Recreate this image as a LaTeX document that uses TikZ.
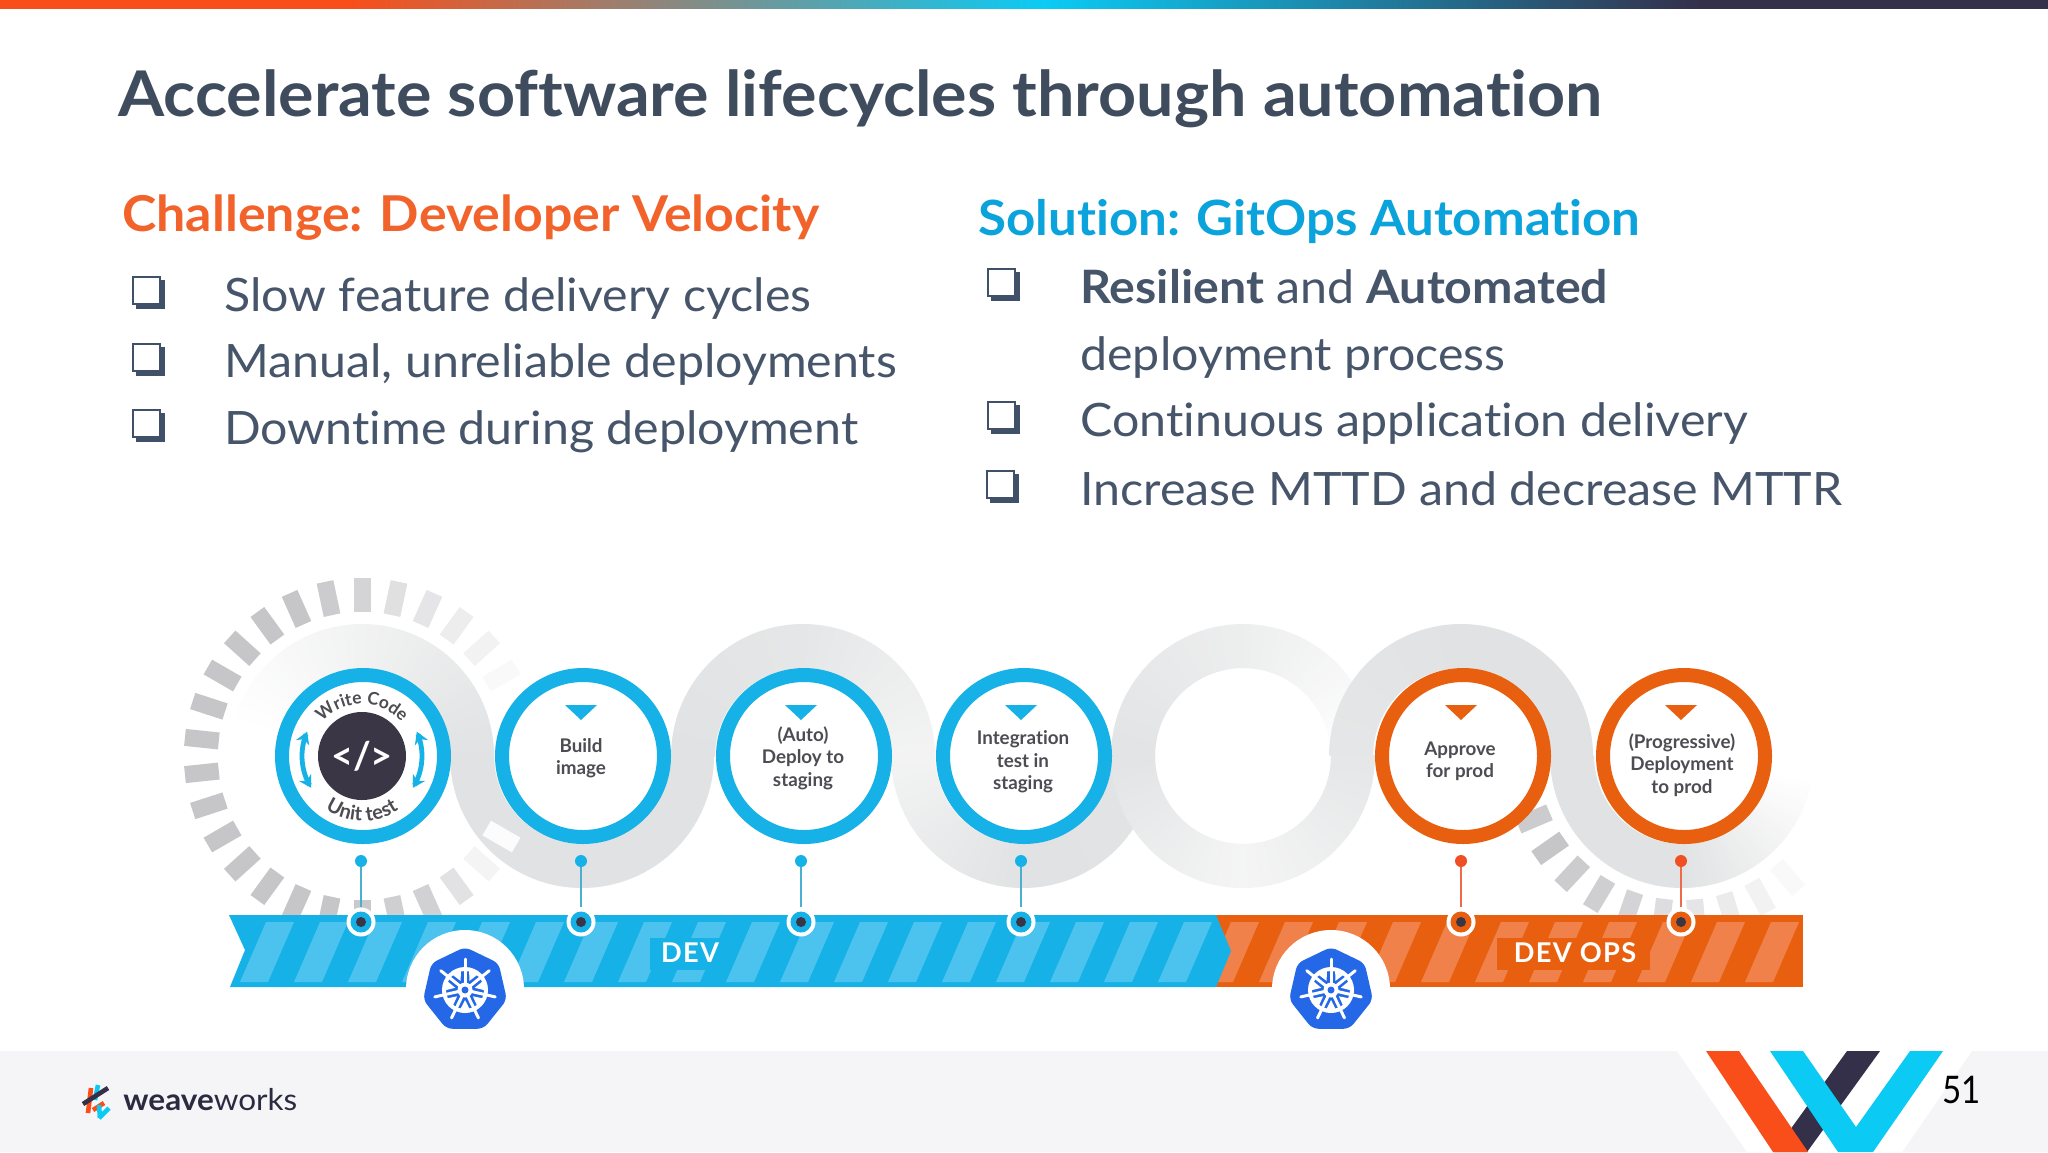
\documentclass[tikz,border=0pt]{standalone}
\usepackage{fontspec}
\usetikzlibrary{arrows.meta,decorations.text,shapes.geometric}
\setmainfont{Lato}[Ligatures=NoCommon]
\newfontfamily\wideA{Lato}[Ligatures=NoCommon,FakeStretch=1.055]
\newfontfamily\wideB{Lato}[Ligatures=NoCommon,FakeStretch=1.05]
\newfontfamily\barf{Lato}[LetterSpace=5]
\newfontfamily\numf{Lato}[FakeStretch=0.87]
\definecolor{titlec}{HTML}{3F4C5E}
\definecolor{bodyc}{HTML}{46556A}
\definecolor{boxc}{HTML}{3F5068}
\definecolor{orangeh}{HTML}{F2632C}
\definecolor{blueh}{HTML}{0BA3DC}
\definecolor{ringblue}{HTML}{16B1E6}
\definecolor{ringorange}{HTML}{E8600F}
\definecolor{stripeblue}{HTML}{4BC3EE}
\definecolor{stripeorange}{HTML}{F0814A}
\definecolor{darkc}{HTML}{3A3646}
\definecolor{lbl}{HTML}{4C4C52}
\definecolor{bandgrey}{HTML}{E1E2E3}
\definecolor{tickgrey}{HTML}{C6C6C9}
\definecolor{kube}{HTML}{2468E8}
\definecolor{footc}{HTML}{F5F5F8}
\definecolor{vorange}{HTML}{F94E19}
\definecolor{vcyan}{HTML}{0BCBF5}
\definecolor{vdark}{HTML}{34304A}
\definecolor{linkblue}{HTML}{4BAFD2}
\definecolor{linkred}{HTML}{EE6A4A}
\definecolor{dotred}{HTML}{F04E23}
\definecolor{wwdark}{HTML}{2B2A40}
\pgfdeclarehorizontalshading{topbar}{100bp}{color(0bp)=(vorange); color(33.5bp)=(vorange); color(50.5bp)=(vcyan); color(66.5bp)=(vdark); color(100bp)=(vdark)}
\tikzset{
  titletext/.style={anchor=base west,text=titlec,font=\wideA\fontsize{31.5}{38}\selectfont\bfseries},
  headtext/.style={anchor=base west,font=\wideB\fontsize{24.7}{29}\selectfont\bfseries},
  bodytext/.style={anchor=base west,text=bodyc,font=\wideB\fontsize{23}{27}\selectfont},
  boxshadow/.style={rectangle,fill=boxc,inner sep=0pt,minimum width=14.5pt,minimum height=14.5pt,anchor=north west},
  boxface/.style={rectangle,fill=white,draw=boxc,line width=0.8pt,inner sep=0pt,minimum width=13.5pt,minimum height=13.5pt,anchor=north west},
  ringblue style/.style={circle,draw=ringblue,line width=7pt,fill=white,minimum size=81pt,inner sep=0pt},
  ringorange style/.style={circle,draw=ringorange,line width=7pt,fill=white,minimum size=81pt,inner sep=0pt},
  steplabel/.style={align=center,text=lbl,inner sep=0pt,font=\fontsize{9.4}{11.2}\selectfont\bfseries},
  bandline/.style={line width=22pt,line cap=butt},
  tickline/.style={line width=8.5pt,line cap=butt},
  dotnode/.style={circle,inner sep=0pt,minimum size=6pt},
  pinwhite/.style={circle,fill=white,inner sep=0pt,minimum size=14.5pt},
  pindark/.style={circle,fill=darkc,inner sep=0pt,minimum size=5pt},
  barlabel/.style={text=white,inner sep=0pt,font=\barf\fontsize{13.6}{15}\selectfont\bfseries},
}
\newcommand{\bandarc}[5]{%
  \pgfmathtruncatemacro\nseg{abs(#3-#2)/2}%
  \foreach \i in {1,...,\nseg}{%
    \pgfmathsetmacro\aa{#2+(#3-#2)*(\i-1)/\nseg}%
    \pgfmathsetmacro\ab{#2+(#3-#2)*(\i+0.3)/\nseg}%
    \pgfmathsetmacro\pp{#4+(#5-#4)*(\i-0.5)/\nseg}%
    \draw[bandline,color=bandgrey!\pp!white] ({#1+110*cos(\aa)},{756-110*sin(\aa)}) -- ({#1+110*cos(\ab)},{756-110*sin(\ab)});
  }}
\newcommand{\gtick}[3]{% cx angle pct
  \draw[tickline,color=tickgrey!#3!white] ({#1+144*cos(#2)},{756-144*sin(#2)}) -- ({#1+178*cos(#2)},{756-178*sin(#2)});}
\newcommand{\kubelogo}[3]{% cx cy name
  \node[regular polygon,regular polygon sides=7,fill=kube,rounded corners=3pt,minimum size=43pt,inner sep=0pt] (#3) at (#1,#2) {};
  \draw[white,line width=2pt] (#1,#2) circle[radius=21];
  \foreach \a in {90,141.43,192.86,244.29,295.71,347.14,38.57}{
    \draw[white,line width=1.5pt,line cap=round] ({#1+5*cos(\a)},{#2-5*sin(\a)}) -- ({#1+31*cos(\a)},{#2-31*sin(\a)});
    \fill[white] ({#1+10*cos(\a+25.7)},{#2-10*sin(\a+25.7)}) -- ({#1+20*cos(\a+12)},{#2-20*sin(\a+12)}) -- ({#1+20*cos(\a+39.4)},{#2-20*sin(\a+39.4)}) -- cycle;
  }
  \fill[white] (#1,#2) circle[radius=7.5];
  \fill[kube] (#1,#2) circle[radius=3.5];
}
\begin{document}
\begin{tikzpicture}[x=0.5pt,y=-0.5pt]
\useasboundingbox (0,0) rectangle (2048,1152);
\fill[white] (0,0) rectangle (2048,1152);
% top bar
\shade[shading=topbar] (0,0) rectangle (2048,8);
% footer
\fill[footc] (0,1051) rectangle (2048,1152);
\fill[white] (1677,1051) -- (1972,1051) -- (1902,1152) -- (1747,1152) -- cycle;
\fill[vdark] (1847,1051) -- (1880,1051) -- (1807,1152) -- (1774,1152) -- cycle;
\fill[vorange] (1706,1051) -- (1739,1051) -- (1808,1152) -- (1773,1152) -- cycle;
\fill[vcyan] (1770,1051) -- (1803,1051) -- (1856,1127) -- (1910,1051) -- (1943,1051) -- (1873,1152) -- (1838,1152) -- cycle;
\node[anchor=base west,inner sep=0pt,text=black,font=\numf\fontsize{19}{23}\selectfont] (pageno) at (1942,1103) {51};
% weaveworks logo
\foreach \xa/\ya/\xb/\yb/\c in {91/1088/88/1113/vorange,104/1103/93/1110/vorange,98/1085/95/1100/vcyan,99/1105/100/1118/vcyan,109/1108/99/1118/vcyan,108/1088/83/1104/vdark}{
  \draw[\c,line width=2.3pt,line cap=butt] (\xa,\ya) -- (\xb,\yb);
}
\node[anchor=base west,inner sep=0pt,text=wwdark,font=\wideB\fontsize{15}{18}\selectfont] (wwtext) at (123,1110) {\textbf{weave}works};
% heading texts
\node[titletext,inner sep=0pt] (ttl) at (118,116) {Accelerate software lifecycles through automation};
\node[headtext,inner sep=0pt,text=orangeh] (hl) at (122,231) {Challenge: Developer Velocity};
\node[headtext,inner sep=0pt,text=blueh,font=\wideB\fontsize{24.3}{29}\selectfont\bfseries] (hr) at (978,235) {Solution: GitOps Automation};
\node[bodytext,inner sep=0pt] (l1) at (224,311) {Slow feature delivery cycles};
\node[bodytext,inner sep=0pt] (l2) at (224,377) {Manual, unreliable deployments};
\node[bodytext,inner sep=0pt] (l3) at (224,444) {Downtime during deployment};
\node[bodytext,inner sep=0pt] (r1) at (1080,303) {\textbf{Resilient} and \textbf{Automated}};
\node[bodytext,inner sep=0pt] (r1b) at (1080,370) {deployment process};
\node[bodytext,inner sep=0pt] (r2) at (1080,436) {Continuous application delivery};
\node[bodytext,inner sep=0pt] (r3) at (1080,505) {Increase MTTD and decrease MTTR};
% check boxes
\foreach \n/\x/\y in {a/132/276,b/132/343,c/132/409,d/987/268,e/987/401,f/986/470}{
  \node[boxshadow] (cbs\n) at ({\x+4},{\y+4}) {};
  \node[boxface] (cbf\n) at (\x,\y) {};
}
% serpentine band
\bandarc{362}{165}{90}{0}{45}
\bandarc{362}{90}{0}{45}{100}
\bandarc{582}{180}{360}{100}{100}
\bandarc{803}{180}{90}{100}{85}
\bandarc{803}{90}{0}{85}{40}
\bandarc{1023}{180}{270}{40}{100}
\bandarc{1023}{270}{360}{100}{95}
\bandarc{1243}{180}{90}{95}{60}
\bandarc{1243}{90}{0}{60}{0}
\bandarc{1243}{180}{270}{95}{35}
\bandarc{1243}{270}{360}{35}{85}
\bandarc{1461}{180}{90}{85}{100}
\bandarc{1461}{90}{0}{100}{100}
\bandarc{1682}{180}{270}{100}{100}
\bandarc{1682}{270}{350}{100}{0}
% gear ticks
\foreach \a/\p in {90/75,78/55,66/45,54/32,42/22,30/10,102/90,114/100,126/100,138/100,150/100,162/100,174/100,186/100,198/100,210/100,222/100,234/100,246/100,258/100,270/95,282/85,294/80,306/50,318/20,330/5}{
  \gtick{362}{\a}{\p}
}
\foreach \a/\p in {203/90,215/100,227/90,239/85,251/75,263/60,275/45,287/35,299/22,311/10}{
  \gtick{1682}{\a}{\p}
}
% ribbon
\fill[ringorange] (1200,915) -- (1803,915) -- (1803,987) -- (1200,987) -- cycle;
\foreach \k in {0,...,10}{
  \fill[stripeorange] ({1231+54*\k},922) -- ({1259+54*\k},922) -- ({1233+54*\k},982) -- ({1205+54*\k},982) -- cycle;
}
\fill[ringblue] (229,915) -- (1216,915) -- (1231,951) -- (1216,987) -- (230,987) -- (245,950) -- cycle;
\foreach \k in {0,...,17}{
  \fill[stripeblue] ({266+54*\k},922) -- ({294+54*\k},922) -- ({268+54*\k},982) -- ({240+54*\k},982) -- cycle;
}
\fill[ringblue] (650,938) rectangle (730,970);
\fill[ringorange] (1497,938) rectangle (1650,970);
\node[barlabel] (dev) at (690,953) {DEV};
\node[barlabel] (devops) at (1575,953) {DEV OPS};
\fill[white] (465,989) circle[radius=59];
\fill[white] (1331,989) circle[radius=59];
\kubelogo{465}{990}{kubeA}
\kubelogo{1331}{990}{kubeB}
% connectors and pins
\foreach \x/\n/\c/\d/\l in {361/a/ringblue/ringblue/linkblue,581/b/ringblue/ringblue/linkblue,801/c/ringblue/ringblue/linkblue,1021/d/ringblue/ringblue/linkblue,1461/e/ringorange/dotred/linkred,1681/f/ringorange/dotred/linkred}{
  \node[dotnode,fill=\d] (top\n) at (\x,861) {};
  \node[pinwhite] (pin\n) at (\x,922) {};
  \node[circle,fill=\c,inner sep=0pt,minimum size=10.5pt] (pinc\n) at (\x,922) {};
  \node[pindark] (pind\n) at (\x,922) {};
  \draw[\l,line width=1pt] (top\n) -- (pin\n);
}
% rings
\foreach \x/\n/\s in {363/A/ringblue,583/B/ringblue,804/C/ringblue,1024/D/ringblue,1463/E/ringorange,1684/F/ringorange}{
  \node[\s\space style] (ring\n) at (\x,756) {};
}
\foreach \x/\c in {581/ringblue,801/ringblue,1021/ringblue,1461/ringorange,1681/ringorange}{
  \fill[\c] ({\x-16},705) -- ({\x+16},705) -- (\x,720) -- cycle;
}
\node[steplabel] (tb) at (581,758) {Build\\image};
\node[steplabel] (tc) at (803,758) {(Auto)\\Deploy to\\staging};
\node[steplabel] (td) at (1023,762) {Integration\\test in\\staging};
\node[steplabel] (te) at (1460,761) {Approve\\for prod};
\node[steplabel] (tf) at (1682,765) {(Progressive)\\Deployment\\to prod};
% first circle
\node[circle,fill=darkc,inner sep=0pt,minimum size=44pt,text=white,font=\fontsize{19}{22}\selectfont\bfseries] (codec) at (362,756) {</>};
\draw[ringblue,line width=2.4pt,{Stealth[length=6pt,width=7pt]}-{Stealth[length=6pt,width=7pt]}] plot[domain=156:212,samples=20] ({362+60*cos(\x)},{756-60*sin(\x)});
\draw[ringblue,line width=2.4pt,{Stealth[length=6pt,width=7pt]}-{Stealth[length=6pt,width=7pt]}] plot[domain=24:-32,samples=20] ({362+60*cos(\x)},{756-60*sin(\x)});
\path[decorate,decoration={text along path,text align=center,text color=lbl,text={|\fontsize{8.7}{11}\selectfont\bfseries|Write Code}}] plot[domain=150:30,samples=40] ({362+52*cos(\x)},{756-52*sin(\x)});
\path[decorate,decoration={text along path,text align=center,text color=lbl,text={|\fontsize{10}{11}\selectfont\bfseries|Unit test}}] plot[domain=215:325,samples=40] ({362+65*cos(\x)},{756-65*sin(\x)});
\end{tikzpicture}
\end{document}
